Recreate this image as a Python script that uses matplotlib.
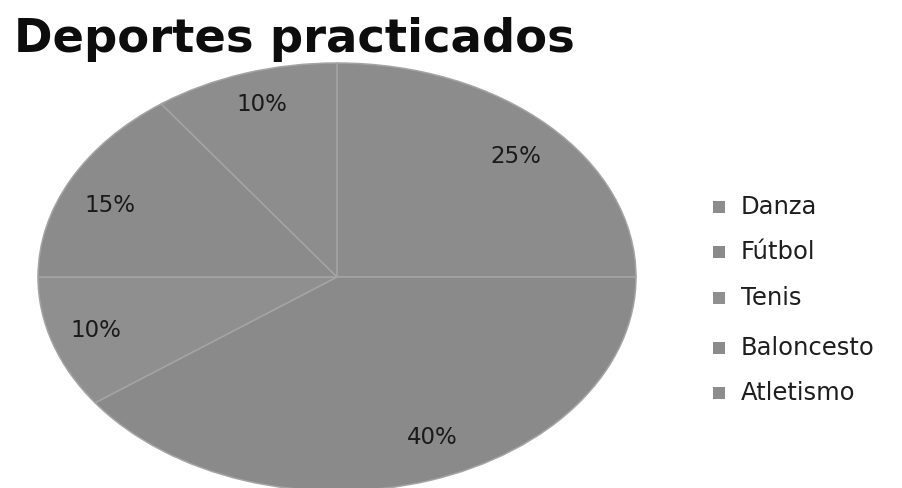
import matplotlib
matplotlib.use("Agg")
import matplotlib.pyplot as plt
import numpy as np
from matplotlib.patches import Rectangle

categories = ["Danza", "Fútbol", "Tenis", "Baloncesto", "Atletismo"]
shares = [25, 40, 10, 15, 10]
slice_colors = ["#8c8c8c", "#8a8a8a", "#8f8f8f", "#8b8b8b", "#8d8d8d"]
# label placement: radial distance and angular nudge (degrees) from each wedge's middle
label_radius = [0.823, 0.813, 0.843, 0.830, 0.842]
label_shift = [-1.7, 5.0, -0.9, 3.1, -0.7]

W, H = 902, 488
fig = plt.figure(figsize=(W / 100, H / 100), dpi=100)
fig.patch.set_facecolor("white")

# pie drawn as an ellipse: centre (337, 277) px, radii 299 x 214 px
cx, cy, rx, ry = 337, 277, 299, 214
ax = fig.add_axes([(cx - rx) / W, (H - cy - ry) / H, 2 * rx / W, 2 * ry / H])
wedges, _ = ax.pie(shares, colors=slice_colors, startangle=90, counterclock=False,
                   radius=1.0, wedgeprops=dict(edgecolor="#a4a4a4", linewidth=1.1))
ax.set_aspect("auto")
ax.set_xlim(-1, 1)
ax.set_ylim(-1, 1)
ax.axis("off")

for w, v, r, s in zip(wedges, shares, label_radius, label_shift):
    mid = np.deg2rad((w.theta1 + w.theta2) / 2 + s)
    ax.text(r * np.cos(mid), r * np.sin(mid), f"{v}%", ha="center", va="center",
            fontsize=16.5, color="#1a1a1a", family="DejaVu Sans")

fig.text(14 / W, 1 - 52 / H, "Deportes practicados", ha="left", va="baseline",
         fontsize=33.5, fontweight="bold", color="#0d0d0d", family="DejaVu Sans")

# legend
leg_y = [207, 252, 298, 348, 393]
for name, col, y in zip(categories, slice_colors, leg_y):
    fig.patches.append(Rectangle((713 / W, 1 - (y + 6) / H), 12 / W, 12 / H,
                                 transform=fig.transFigure, facecolor=col,
                                 edgecolor="none"))
    fig.text(741 / W, 1 - y / H, name, ha="left", va="center", fontsize=17.5,
             color="#1e1e1e", family="DejaVu Sans")

fig.savefig("out.png", dpi=100, facecolor="white")
